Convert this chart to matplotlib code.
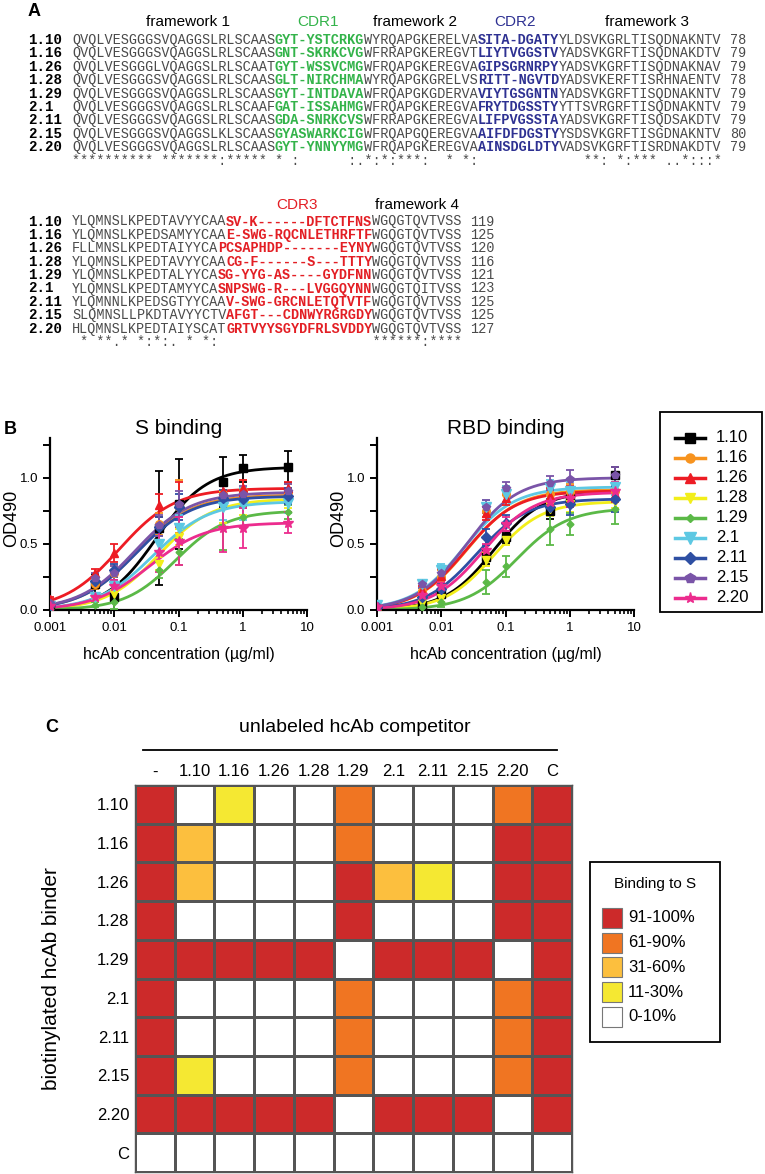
import numpy as np
import matplotlib
matplotlib.use('Agg')
import matplotlib.pyplot as plt
from matplotlib.colors import ListedColormap
from matplotlib.patches import Rectangle
from matplotlib.lines import Line2D
from matplotlib.ticker import MultipleLocator, LogLocator, NullFormatter, FixedLocator, FixedFormatter

plt.rcParams['font.family'] = ['Liberation Sans', 'DejaVu Sans']

W, H = 765, 1174

# ---------------- panel A : alignment ----------------
names = ['1.10', '1.16', '1.26', '1.28', '1.29', '2.1', '2.11', '2.15', '2.20']
fw1 = ['QVQLVESGGGSVQAGGSLRLSCAAS', 'QVQLVESGGGSVQAGGSLRLSCAAS', 'QVQLVESGGGLVQAGGSLRLSCAAT',
       'QVQLVESGGGSVQAGGSLRLSCAAS', 'QVQLVESGGGSVQAGGSLRLSCAAS', 'QVQLVESGGGSVQAGGSLRLSCAAF',
       'QVQLVESGGGSVQAGGSLRLSCAAS', 'QVQLVESGGGSVQAGGSLKLSCAAS', 'QVQLVESGGGSVQAGGSLRLSCAAS']
cdr1 = ['GYT-YSTCRKG', 'GNT-SKRKCVG', 'GYT-WSSVCMG', 'GLT-NIRCHMA', 'GYT-INTDAVA',
        'GAT-ISSAHMG', 'GDA-SNRKCVS', 'GYASWARKCIG', 'GYT-YNNYYMG']
fw2 = ['WYRQAPGKERELVA', 'WFRRAPGKEREGVT', 'WFRQAPGKEREGVA', 'WYRQAPGKGRELVS', 'WFRQAPGKGDERVA',
       'WFRQAPGKEREGVA', 'WFRRAPGKEREGVA', 'WFRQAPGQEREGVA', 'WFRQAPGKEREGVA']
cdr2 = ['SITA-DGATY', 'LIYTVGGSTV', 'GIPSGRNRPY', 'RITT-NGVTD', 'VIYTGSGNTN',
        'FRYTDGSSTY', 'LIFPVGSSTA', 'AIFDFDGSTY', 'AINSDGLDTY']
fw3 = ['YLDSVKGRLTISQDNAKNTV', 'YADSVKGRFTISQDNAKDTV', 'YADSVKGRFTISQDNAKNAV',
       'YADSVKERFTISRHNAENTV', 'YADSVKGRFTISQDNAKNTV', 'YTTSVRGRFTISQDNAKNTV',
       'YADSVKGRFTISQDSAKDTV', 'YSDSVKGRFTISGDNAKNTV', 'VADSVKGRFTISRDNAKDTV']
len1 = [78, 79, 79, 78, 79, 79, 79, 80, 79]
cons1 = ('********** *******:***** ' + '* :      :.' + '*:*:***:  * *:'
         + ' ' * 10 + '   **: *:*** ..*:::*')

fw3b = ['YLQMNSLKPEDTAVYYCAA', 'YLQMNSLKPEDSAMYYCAA', 'FLLMNSLKPEDTAIYYCA',
        'YLQMNSLKPEDTAVYYCAA', 'YLQMNSLKPEDTALYYCA', 'YLQMNSLKPEDTAMYYCA',
        'YLQMNNLKPEDSGTYYCAA', 'SLQMNSLLPKDTAVYYCTV', 'HLQMNSLKPEDTAIYSCAT']
cdr3 = ['SV-K------DFTCTFNS', 'E-SWG-RQCNLETHRFTF', 'PCSAPHDP-------EYNY',
        'CG-F------S---TTTY', 'SG-YYG-AS----GYDFNN', 'SNPSWG-R---LVGGQYNN',
        'V-SWG-GRCNLETQTVTF', 'AFGT---CDNWYRGRGDY', 'GRTVYYSGYDFRLSVDDY']
fw4 = ['WGQGTQVTVSS'] * 5 + ['WGQGTQITVSS'] + ['WGQGTQVTVSS'] * 3
len2 = [119, 125, 120, 116, 121, 123, 125, 125, 127]
cons2 = ' * **.* *:*:. * *: ' + ' ' * 18 + '******:****'

# ---------------- panel B : ELISA ----------------
clones = names
colors = ['black', '#f7931e', '#ed1c24', '#f2ee1a', '#5bb947', '#5dc8e3', '#2e4fa3', '#7a54a8', '#ec2c8e']
markers = ['s', 'o', '^', 'v', 'D', 'v', 'D', 'p', '*']
msizes = [5.5, 5.5, 6, 6, 3.5, 7, 5.5, 6, 7]
conc = [0.001, 0.005, 0.01, 0.05, 0.1, 0.5, 1, 5]

s_od = [[0.03, 0.20, 0.10, 0.62, 0.80, 0.97, 1.07, 1.08],
        [0.04, 0.20, 0.28, 0.65, 0.78, 0.88, 0.90, 0.89],
        [0.08, 0.28, 0.43, 0.79, 0.80, 0.90, 0.92, 0.92],
        [0.02, 0.08, 0.12, 0.35, 0.55, 0.78, 0.82, 0.83],
        [0.01, 0.04, 0.06, 0.30, 0.44, 0.63, 0.70, 0.74],
        [0.03, 0.10, 0.18, 0.50, 0.62, 0.78, 0.80, 0.81],
        [0.04, 0.22, 0.30, 0.63, 0.78, 0.85, 0.84, 0.86],
        [0.05, 0.24, 0.28, 0.64, 0.80, 0.87, 0.88, 0.90],
        [0.03, 0.10, 0.18, 0.44, 0.52, 0.62, 0.62, 0.66]]
s_err = [[0.02, 0.07, 0.12, 0.43, 0.34, 0.19, 0.10, 0.12],
         [0.01, 0.04, 0.05, 0.08, 0.20, 0.07, 0.08, 0.06],
         [0.02, 0.03, 0.07, 0.09, 0.17, 0.06, 0.06, 0.05],
         [0.01, 0.02, 0.03, 0.05, 0.06, 0.12, 0.10, 0.06],
         [0.01, 0.02, 0.05, 0.06, 0.10, 0.18, 0.08, 0.05],
         [0.01, 0.02, 0.04, 0.06, 0.10, 0.10, 0.12, 0.08],
         [0.01, 0.03, 0.05, 0.07, 0.10, 0.06, 0.07, 0.06],
         [0.01, 0.04, 0.05, 0.08, 0.10, 0.07, 0.06, 0.05],
         [0.01, 0.03, 0.05, 0.15, 0.18, 0.18, 0.15, 0.08]]
s_top = [1.08, 0.87, 0.92, 0.84, 0.75, 0.82, 0.86, 0.89, 0.66]
s_ec50 = [0.045, 0.022, 0.012, 0.05, 0.09, 0.04, 0.022, 0.021, 0.035]
s_hill = [1.1, 1.0, 1.0, 1.05, 1.1, 1.0, 1.0, 1.0, 1.0]

r_od = [[0.01, 0.04, 0.12, 0.40, 0.55, 0.75, 0.85, 1.02],
        [0.03, 0.14, 0.25, 0.75, 0.88, 0.88, 0.89, 0.90],
        [0.03, 0.15, 0.26, 0.73, 0.85, 0.86, 0.88, 0.88],
        [0.01, 0.05, 0.09, 0.38, 0.53, 0.76, 0.80, 0.82],
        [0.00, 0.02, 0.06, 0.21, 0.33, 0.61, 0.65, 0.76],
        [0.04, 0.20, 0.30, 0.78, 0.88, 0.92, 0.90, 0.93],
        [0.02, 0.10, 0.16, 0.55, 0.66, 0.78, 0.80, 0.84],
        [0.03, 0.20, 0.28, 0.78, 0.92, 0.96, 0.99, 1.02],
        [0.02, 0.11, 0.18, 0.45, 0.65, 0.82, 0.85, 0.90]]
r_err = [[0.01, 0.02, 0.03, 0.05, 0.04, 0.06, 0.07, 0.06],
         [0.01, 0.03, 0.05, 0.05, 0.06, 0.08, 0.06, 0.07],
         [0.01, 0.03, 0.05, 0.05, 0.06, 0.06, 0.06, 0.06],
         [0.01, 0.02, 0.03, 0.05, 0.04, 0.05, 0.06, 0.05],
         [0.01, 0.01, 0.04, 0.09, 0.08, 0.12, 0.08, 0.11],
         [0.01, 0.03, 0.05, 0.05, 0.06, 0.06, 0.07, 0.06],
         [0.01, 0.03, 0.04, 0.06, 0.06, 0.06, 0.08, 0.10],
         [0.01, 0.03, 0.05, 0.05, 0.05, 0.05, 0.07, 0.06],
         [0.01, 0.02, 0.03, 0.05, 0.05, 0.06, 0.07, 0.07]]
r_top = [0.90, 0.91, 0.90, 0.82, 0.77, 0.93, 0.84, 1.00, 0.89]
r_ec50 = [0.065, 0.025, 0.024, 0.065, 0.15, 0.022, 0.035, 0.025, 0.045]
r_hill = [1.15, 1.1, 1.1, 1.15, 1.1, 1.1, 1.1, 1.1, 1.1]

# ---------------- panel C : competition ----------------
competitors = ['-', '1.10', '1.16', '1.26', '1.28', '1.29', '2.1', '2.11', '2.15', '2.20', 'C']
binders = ['1.10', '1.16', '1.26', '1.28', '1.29', '2.1', '2.11', '2.15', '2.20', 'C']
# 4 = 91-100%, 3 = 61-90%, 2 = 31-60%, 1 = 11-30%, 0 = 0-10%
binding = [[4, 0, 1, 0, 0, 3, 0, 0, 0, 3, 4],
           [4, 2, 0, 0, 0, 3, 0, 0, 0, 4, 4],
           [4, 2, 0, 0, 0, 4, 2, 1, 0, 4, 4],
           [4, 0, 0, 0, 0, 4, 0, 0, 0, 4, 4],
           [4, 4, 4, 4, 4, 0, 4, 4, 4, 0, 4],
           [4, 0, 0, 0, 0, 3, 0, 0, 0, 3, 4],
           [4, 0, 0, 0, 0, 3, 0, 0, 0, 3, 4],
           [4, 1, 0, 0, 0, 3, 0, 0, 0, 3, 4],
           [4, 4, 4, 4, 4, 0, 4, 4, 4, 0, 4],
           [0, 0, 0, 0, 0, 0, 0, 0, 0, 0, 0]]
level_labels = ['91-100%', '61-90%', '31-60%', '11-30%', '0-10%']
level_colors = ['#cc2a2a', '#f07522', '#fcbf3e', '#f5e832', 'white']

fig = plt.figure(figsize=(W / 100, H / 100), dpi=100)

# overlay in pixel coordinates for texts
ov = fig.add_axes([0, 0, 1, 1])
ov.set_xlim(0, W)
ov.set_ylim(H, 0)
ov.axis('off')
ov.patch.set_visible(False)

MONO = 'Liberation Mono'
CW = 8.12
FS = CW / 0.6 * 0.72
X0 = 72
GREY = '#4a4a4a'


def seq_row(y, name, parts, number):
    ov.text(28, y, name, family=MONO, weight='bold', fontsize=FS + 0.4, va='center', ha='left')
    x = X0
    for txt, col, bold in parts:
        ov.text(x, y, txt, family=MONO, fontsize=FS, color=col, weight='bold' if bold else 'normal',
                va='center', ha='left')
        x += len(txt) * CW
    ov.text(x + CW, y, str(number), family=MONO, fontsize=FS, color=GREY, va='center', ha='left')


ov.text(28, 11, 'A', fontsize=13, weight='bold', va='center')
hdr = [(188, 'framework 1', 'black'), (318, 'CDR1', '#33b34a'), (415, 'framework 2', 'black'),
       (515, 'CDR2', '#2e3192'), (647, 'framework 3', 'black')]
for x, t, c in hdr:
    ov.text(x, 22.5, t, fontsize=11, color=c, ha='center', va='center')

y0, dy = 40, 13.4
for i in range(9):
    seq_row(y0 + i * dy, names[i],
            [(fw1[i], GREY, False), (cdr1[i], '#33b34a', True), (fw2[i], GREY, False),
             (cdr2[i], '#2e3192', True), (fw3[i], GREY, False)], len1[i])
ov.text(X0, y0 + 9 * dy, cons1, family=MONO, fontsize=FS, color=GREY, va='center', ha='left')

ov.text(297, 205, 'CDR3', fontsize=11, color='#e31e24', ha='center', va='center')
ov.text(417, 205, 'framework 4', fontsize=11, color='black', ha='center', va='center')
y0b = 221.5
for i in range(9):
    seq_row(y0b + i * dy, names[i],
            [(fw3b[i], GREY, False), (cdr3[i], '#e31e24', True), (fw4[i], GREY, False)], len2[i])
ov.text(X0, y0b + 9 * dy, cons2, family=MONO, fontsize=FS, color=GREY, va='center', ha='left')

# ---------------- panel B ----------------
ov.text(4, 430, 'B', fontsize=13, weight='bold', va='center')
xx = np.logspace(-3, np.log10(5), 200)


def binding_panel(left, title, od, err, top, ec50, hill):
    ax = fig.add_axes([left / W, 1 - 610 / H, 257 / W, 172 / H])
    for k in range(len(clones)):
        c = colors[k]
        fit = top[k] * xx ** hill[k] / (ec50[k] ** hill[k] + xx ** hill[k])
        ax.plot(xx, fit, color=c, lw=2, zorder=2)
        ax.errorbar(conc, od[k], yerr=err[k], fmt='none', ecolor=c, elinewidth=1.3,
                    capsize=3, capthick=1.3, zorder=3)
        ax.plot(conc, od[k], ls='none', marker=markers[k], ms=msizes[k], color=c, zorder=4)
    ax.set_xscale('log')
    ax.set_xlim(0.001, 10)
    ax.set_ylim(0, 1.3)
    ax.xaxis.set_major_locator(FixedLocator([0.001, 0.01, 0.1, 1, 10]))
    ax.xaxis.set_major_formatter(FixedFormatter(['0.001', '0.01', '0.1', '1', '10']))
    ax.xaxis.set_minor_locator(LogLocator(base=10, subs=np.arange(2, 10), numticks=20))
    ax.xaxis.set_minor_formatter(NullFormatter())
    ax.yaxis.set_major_locator(MultipleLocator(0.5))
    ax.yaxis.set_minor_locator(MultipleLocator(0.25))
    ax.yaxis.set_major_formatter(plt.FuncFormatter(lambda v, p: f'{v:.1f}'))
    for s in ['top', 'right']:
        ax.spines[s].set_visible(False)
    for s in ['left', 'bottom']:
        ax.spines[s].set_linewidth(1.6)
    ax.tick_params(which='major', length=5, width=1.4, labelsize=9.5, direction='out')
    ax.tick_params(axis='y', which='minor', length=5, width=1.4)
    ax.tick_params(axis='x', which='minor', length=3, width=1.2)
    ax.patch.set_visible(False)
    cx = left + 257 / 2
    ov.text(cx, 428, title, fontsize=15, ha='center', va='center')
    ov.text(cx, 655, 'hcAb concentration (µg/ml)', fontsize=11.5, ha='center', va='center')
    ov.text(left - 38, 518, 'OD490', fontsize=13, rotation=90, ha='center', va='center')
    return ax


binding_panel(50, 'S binding', s_od, s_err, s_top, s_ec50, s_hill)
binding_panel(377, 'RBD binding', r_od, r_err, r_top, r_ec50, r_hill)

# legend for B
ov.add_patch(Rectangle((660, 412), 102, 200, fill=False, lw=1.3, ec='black'))
for k in range(len(clones)):
    y = 438 + 20 * k
    ov.add_line(Line2D([675, 705], [y, y], color=colors[k], lw=2.5))
    ov.plot([690], [y], marker=markers[k], ms=msizes[k] + 1, color=colors[k])
    ov.text(716, y, clones[k], fontsize=12, va='center', ha='left')

# ---------------- panel C ----------------
ov.text(45, 728, 'C', fontsize=13, weight='bold', va='center')
ov.text(355, 727, 'unlabeled hcAb competitor', fontsize=14, ha='center', va='center')
ov.add_line(Line2D([143, 557], [750, 750], color='black', lw=1.3))

gx0, gx1, gy0, gy1 = 135, 572, 785, 1172
axc = fig.add_axes([gx0 / W, 1 - gy1 / H, (gx1 - gx0) / W, (gy1 - gy0) / H])
cmap = ListedColormap(level_colors[::-1])
axc.pcolormesh(np.array(binding), cmap=cmap, vmin=-0.5, vmax=4.5,
               edgecolors='#555555', linewidth=0.9)
axc.set_xlim(0, len(competitors))
axc.set_ylim(len(binders), 0)
axc.xaxis.tick_top()
axc.set_xticks(np.arange(len(competitors)) + 0.5)
axc.set_xticklabels(competitors, fontsize=12)
axc.set_yticks(np.arange(len(binders)) + 0.5)
axc.set_yticklabels(binders, fontsize=12)
axc.tick_params(length=0, pad=4)
for s in axc.spines.values():
    s.set_linewidth(1.0)
    s.set_color('#555555')
ov.text(52, (gy0 + gy1) / 2, 'biotinylated hcAb binder', fontsize=15, rotation=90,
        ha='center', va='center')

# legend for C
ov.add_patch(Rectangle((590, 862), 130, 180, fill=False, lw=1.3, ec='black'))
ov.text(655, 884, 'Binding to S', fontsize=11, ha='center', va='center')
for k in range(len(level_labels)):
    y = 918 + 24.7 * k
    ov.add_patch(Rectangle((602, y - 10), 20, 20, fc=level_colors[k], ec='#777777', lw=0.8))
    ov.text(628, y, level_labels[k], fontsize=12, va='center', ha='left')

fig.savefig('out.png', dpi=100)
